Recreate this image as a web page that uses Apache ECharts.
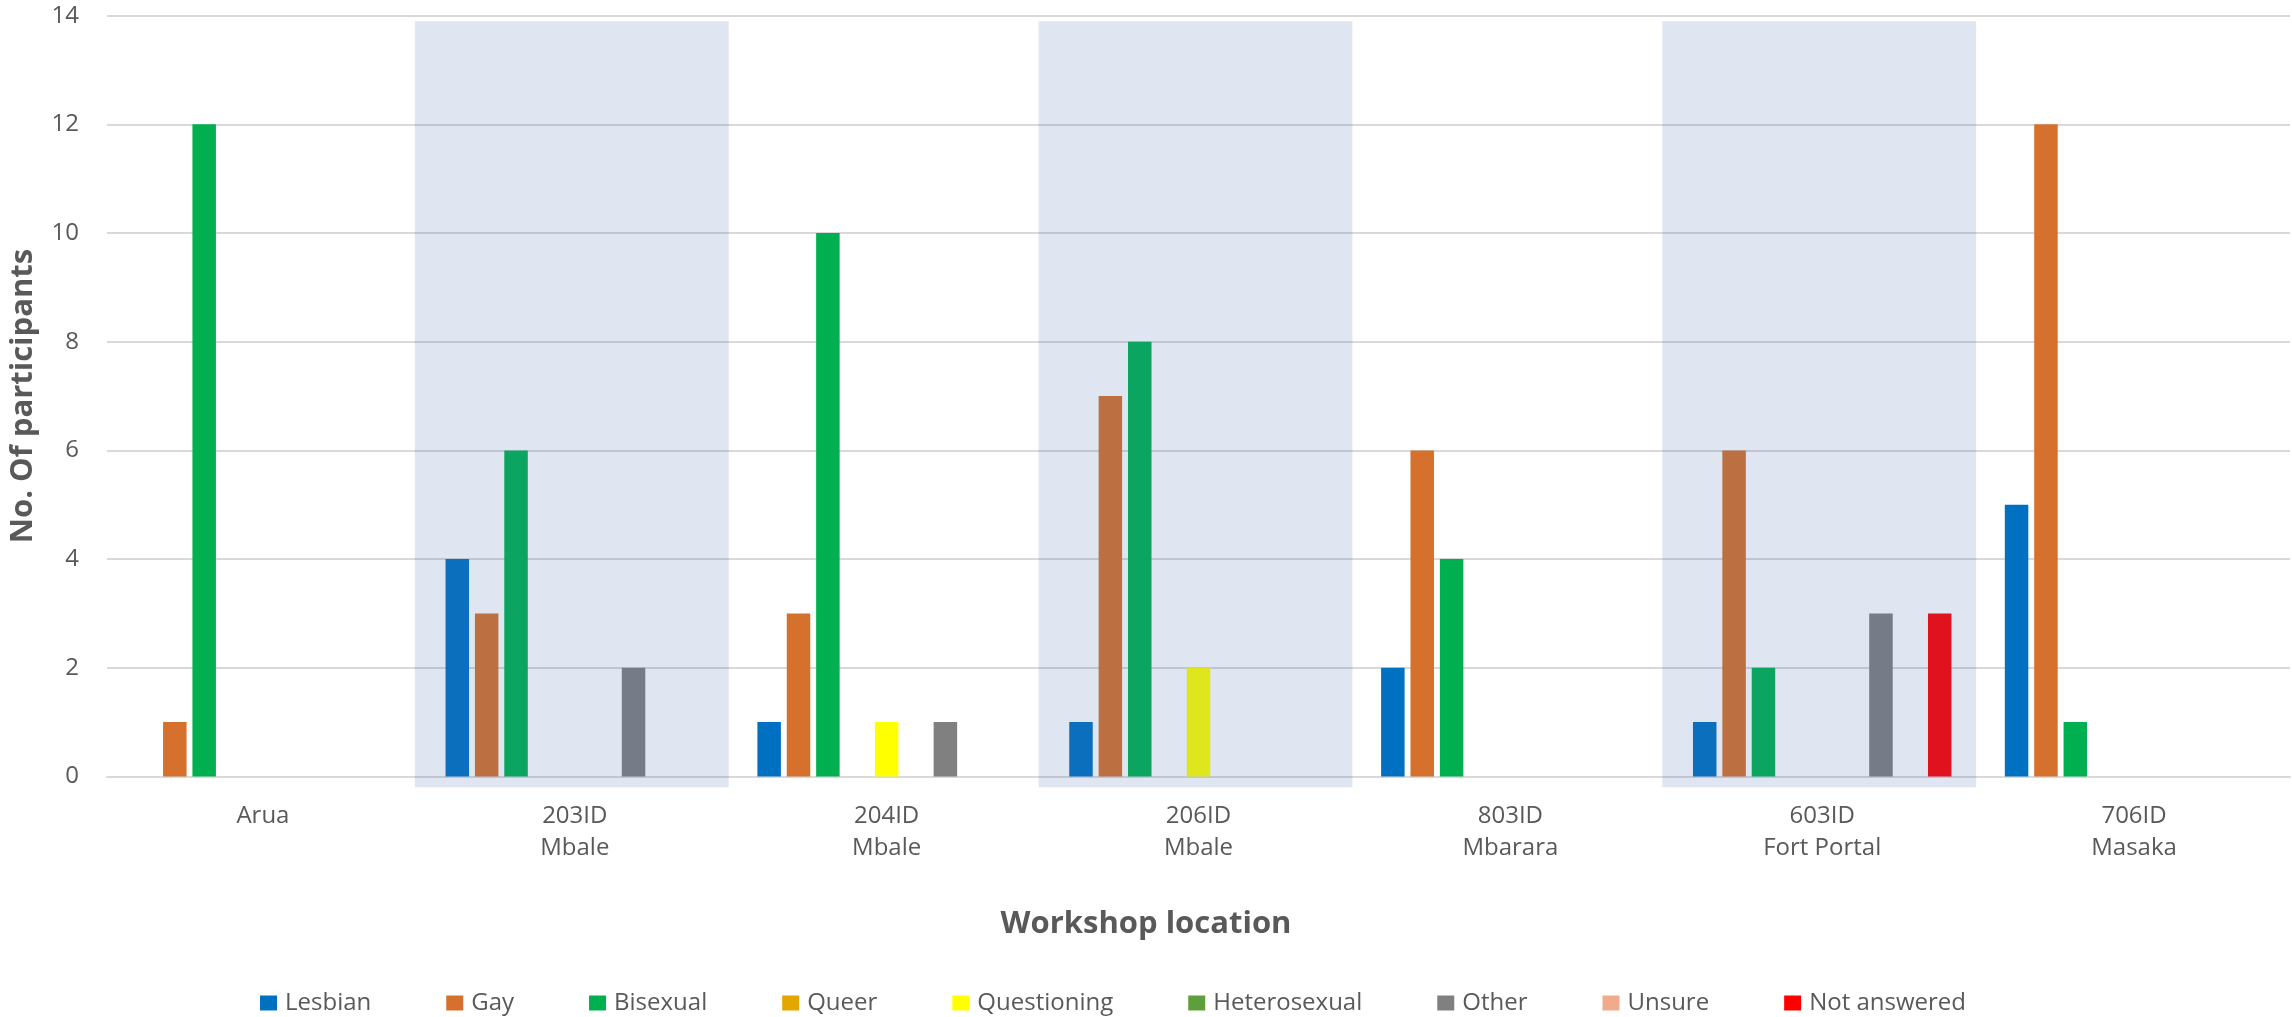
<!DOCTYPE html>
<html>
<head>
<meta charset="utf-8">
<script src="https://cdn.jsdelivr.net/npm/echarts@6/dist/echarts.min.js"></script>
<style>html,body{margin:0;padding:0;background:#fff;}#chart{width:2292px;height:1017px;}</style>
</head>
<body>
<div id="chart"></div>
<script>
const categories = ['Arua', '203ID\nMbale', '204ID\nMbale', '206ID\nMbale', '803ID\nMbarara', '603ID\nFort Portal', '706ID\nMasaka'];
const seriesNames = ['Lesbian', 'Gay', 'Bisexual', 'Queer', 'Questioning', 'Heterosexual', 'Other', 'Unsure', 'Not answered'];
const lesbian      = [0, 4, 1, 1, 2, 1, 5];
const gay          = [1, 3, 3, 7, 6, 6, 12];
const bisexual     = [12, 6, 10, 8, 4, 2, 1];
const queer        = [0, 0, 0, 0, 0, 0, 0];
const questioning  = [0, 0, 1, 2, 0, 0, 0];
const heterosexual = [0, 0, 0, 0, 0, 0, 0];
const other        = [0, 2, 1, 0, 0, 3, 0];
const unsure       = [0, 0, 0, 0, 0, 0, 0];
const notAnswered  = [0, 0, 0, 0, 0, 3, 0];
const shadedCategories = [1, 3, 5];
const yTicks = [0, 2, 4, 6, 8, 10, 12, 14];

const seriesValues = [lesbian, gay, bisexual, queer, questioning, heterosexual, other, unsure, notAnswered];
const colors = ['#0070C0', '#D5712C', '#00B050', '#E3A600', '#FFFF00', '#5F9E3C', '#808080', '#F2AA8C', '#FF0000'];
const FONT = '"Open Sans", Lato, sans-serif';
const TXT = '#595959';

const chart = echarts.init(document.getElementById('chart'), null, {renderer: 'canvas'});

const barSeries = seriesNames.map((n, i) => ({
  name: n,
  type: 'bar',
  data: seriesValues[i],
  barWidth: 23.5,
  barGap: '25%',
  itemStyle: {color: colors[i]},
  z: 2
}));

const shadeSeries = {
  name: 'shade',
  type: 'custom',
  data: shadedCategories.map(c => [c]),
  encode: {x: 0},
  clip: false,
  z: 10,
  silent: true,
  renderItem: function (params, api) {
    const c = api.value(0);
    const top = api.coord([c, 13.9]);
    const bot = api.coord([c, -0.2]);
    const w = api.size([1, 0])[0];
    return {
      type: 'rect',
      shape: {x: top[0] - w / 2 - 4, y: top[1], width: w + 2, height: bot[1] - top[1]},
      style: {fill: 'rgba(68,104,180,0.17)'}
    };
  }
};

chart.setOption({
  animation: false,
  color: colors,
  textStyle: {fontFamily: FONT},
  title: {
    text: 'Workshop location',
    left: 'center',
    top: 904,
    textStyle: {fontFamily: FONT, fontSize: 31, fontWeight: 'bold', color: TXT}
  },
  grid: {left: 106, right: 2, top: 15.7, bottom: 240.6, containLabel: false},
  legend: {
    data: seriesNames,
    left: 255,
    top: 986,
    icon: 'rect',
    itemWidth: 17,
    itemHeight: 15,
    itemGap: 75,
    textStyle: {fontFamily: FONT, fontSize: 24, color: TXT, padding: [0, 0, 0, 3]}
  },
  xAxis: {
    type: 'category',
    data: categories,
    axisLine: {show: true, lineStyle: {color: '#D9D9D9', width: 2}},
    axisTick: {show: false},
    axisLabel: {fontFamily: FONT, fontSize: 24, color: TXT, lineHeight: 32, margin: 24, interval: 0}
  },
  yAxis: {
    type: 'value',
    min: yTicks[0],
    max: yTicks[yTicks.length - 1],
    interval: yTicks[1] - yTicks[0],
    name: 'No. Of participants',
    nameLocation: 'middle',
    nameGap: 68,
    nameTextStyle: {fontFamily: FONT, fontSize: 31, fontWeight: 'bold', color: TXT},
    axisLine: {show: false},
    axisTick: {show: false},
    axisLabel: {fontFamily: FONT, fontSize: 24, color: TXT, margin: 28},
    splitLine: {lineStyle: {color: '#D9D9D9', width: 2}}
  },
  series: barSeries.concat([shadeSeries])
});
</script>
</body>
</html>
